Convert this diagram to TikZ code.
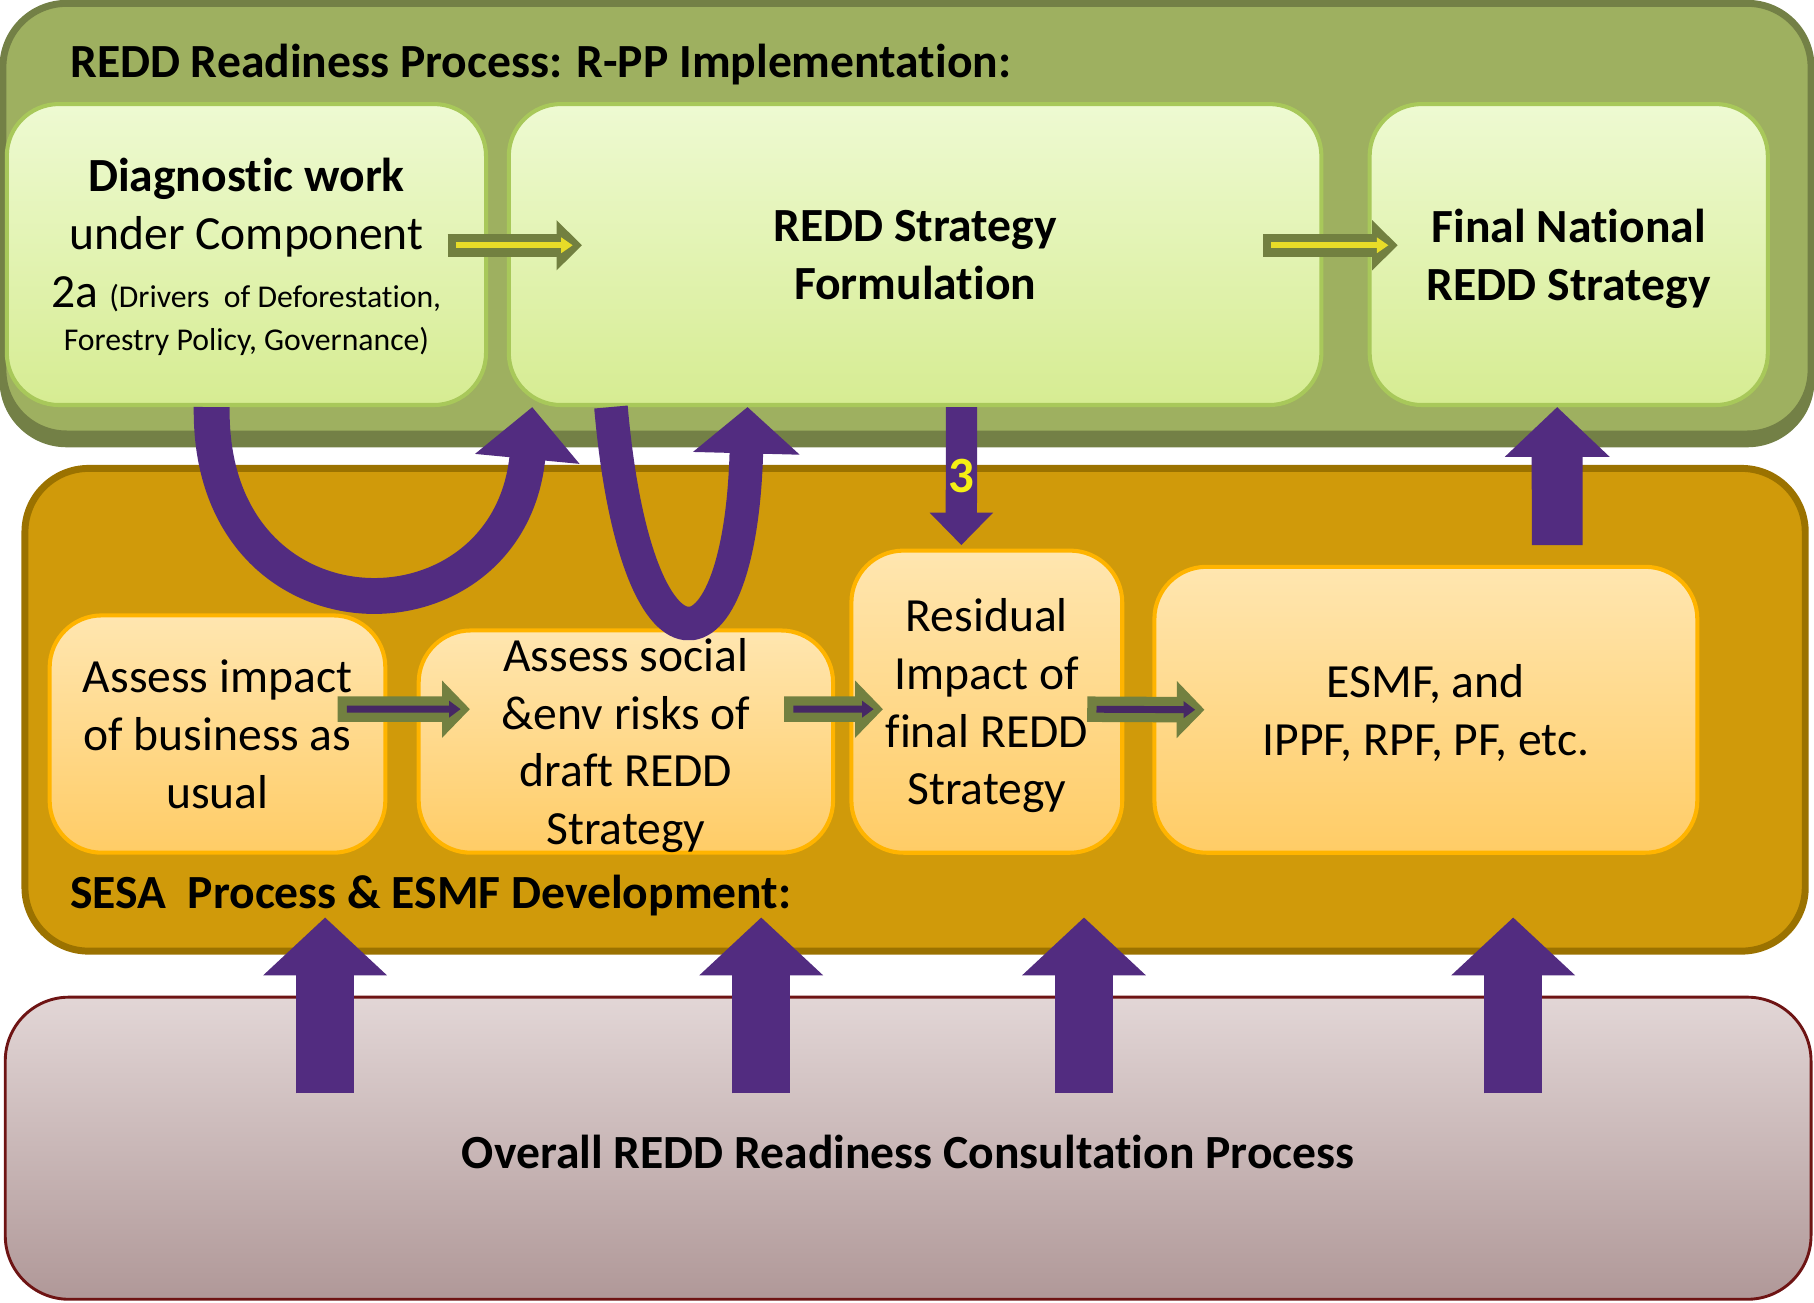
\documentclass[tikz,border=0pt]{standalone}
\usepackage{fontspec}
\setmainfont{Carlito}[Ligatures=NoCommon]
\usepackage{xcolor}
\usepackage{tikz}
\usetikzlibrary{arrows.meta,positioning}
\definecolor{panelgreen}{RGB}{158,176,96}
\definecolor{paneledge}{RGB}{115,128,70}
\definecolor{gtop}{RGB}{238,250,210}
\definecolor{gbot}{RGB}{214,236,146}
\definecolor{gedge}{RGB}{168,200,90}
\definecolor{sesafill}{RGB}{208,154,10}
\definecolor{sesaedge}{RGB}{155,114,0}
\definecolor{otop}{RGB}{255,230,176}
\definecolor{obot}{RGB}{255,204,102}
\definecolor{oedge}{RGB}{255,180,0}
\definecolor{pinktop}{RGB}{226,214,214}
\definecolor{pinkbot}{RGB}{176,152,152}
\definecolor{pinkedge}{RGB}{110,20,20}
\definecolor{olv}{RGB}{114,128,64}
\definecolor{yel}{RGB}{232,220,40}
\definecolor{purp}{RGB}{82,44,128}
\definecolor{dpurp}{RGB}{70,40,100}
\tikzset{panel/.style={rounded corners=5.5mm,line width=0.6mm,inner sep=0,font=\fontsize{11.7}{14.2}\selectfont},
  gbox/.style={draw=gedge,line width=0.35mm,top color=gtop,bottom color=gbot,rounded corners=4.5mm,inner sep=0,align=center,
    font=\fontsize{11.7}{14.2}\selectfont,text depth=-2.8pt},
  obox/.style={draw=oedge,line width=0.35mm,top color=otop,bottom color=obot,rounded corners=4.5mm,inner sep=0,align=center,
    font=\fontsize{11.7}{14.2}\selectfont,text depth=-2.8pt},
  gflow/.style={draw=olv,line width=2mm,-{Triangle[length=2.2mm,width=4.2mm]},
    postaction={draw=yel,line width=0.5mm,shorten <=0.7mm,shorten >=0.8mm,-{Triangle[length=1mm,width=1.3mm]}}},
  oflow/.style={draw=olv,line width=2.2mm,-{Triangle[length=2.4mm,width=4.8mm]},
    postaction={draw=dpurp,line width=0.6mm,shorten <=0.8mm,shorten >=0.8mm,-{Triangle[length=1mm,width=1.4mm]}}},
  pflow/.style={draw=purp}}

\begin{document}
\begin{tikzpicture}[x=0.01cm,y=-0.01cm]
        \useasboundingbox (0,0) rectangle (1568,1126);
        % the three panels
        \node[panel,fill=paneledge,draw=paneledge,minimum width=15.62cm,minimum height=3.77cm] (rppshade) at (784,195) {};
        \node[panel,fill=panelgreen,draw=paneledge,minimum width=15.62cm,minimum height=3.72cm] (rpp) at (784,189) {};
        \node[panel,fill=sesafill,draw=sesaedge,minimum width=15.38cm,minimum height=4.17cm] (sesa) at (791,613.5) {};
        \node[panel,top color=pinktop,bottom color=pinkbot,draw=pinkedge,line width=0.25mm,minimum width=15.6cm,minimum height=2.61cm] (consult) at (785,992.5) {\rule{0pt}{10pt}\textbf{Overall REDD Readiness Consultation Process}};

        \node[anchor=west,inner sep=0,font=\fontsize{11.7}{14.2}\selectfont] (rpptitle) at (60,56) {\textbf{REDD Readiness Process: R-PP Implementation:}};
        \node[anchor=west,inner sep=0,font=\fontsize{11.7}{14.2}\selectfont] (sesatitle) at (60,774) {\textbf{SESA\ \ Process \& ESMF Development:}};

        % R-PP row
        \node[gbox,minimum width=4.14cm,minimum height=2.6cm] (diag) at (213,220) {\textbf{Diagnostic work}\\under Component\\2a {\fontsize{7.8}{10.8}\selectfont (Drivers\ \ of Deforestation,}\\[-3.5pt]{\fontsize{7.8}{10.8}\selectfont Forestry Policy, Governance)}};
        \node[gbox,minimum width=7.02cm,minimum height=2.6cm] (formul) at (791,220) {\textbf{REDD Strategy}\\\textbf{Formulation}};
        \node[gbox,minimum width=3.44cm,minimum height=2.6cm] (final) at (1356,220) {\textbf{Final National}\\\textbf{REDD Strategy}};

        % SESA row
        \node[obox,minimum width=2.9cm,minimum height=2.05cm] (bau) at (188,634.5) {Assess impact\\of business as\\usual};
        \node[obox,minimum width=3.58cm,minimum height=1.92cm] (risks) at (541,641) {Assess social\\\&env risks of\\draft REDD\\Strategy};
        \node[obox,minimum width=2.34cm,minimum height=2.61cm] (resid) at (853,606.5) {Residual\\Impact of\\final REDD\\Strategy};
        \node[obox,minimum width=4.69cm,minimum height=2.47cm] (esmf) at (1232.5,613.5) {ESMF, and\\IPPF, RPF, PF, etc.};

        \draw[gflow] ([xshift=-3.5mm,yshift=0.8mm]diag.east) -- ([xshift=6.5mm,yshift=0.8mm]formul.west);
        \draw[gflow] ([xshift=-5.2mm,yshift=0.8mm]formul.east) -- ([xshift=2.6mm,yshift=0.8mm]final.west);

        \draw[oflow] ([xshift=-4.3mm,yshift=2.15mm]bau.east) -- ([xshift=4.6mm,yshift=2.8mm]risks.west);
        \draw[oflow] ([xshift=-4.4mm,yshift=2.8mm]risks.east) -- ([xshift=2.9mm,yshift=-0.65mm]resid.west);
        \draw[oflow] ([xshift=-3.2mm,yshift=-0.65mm]resid.east) -- ([xshift=4.5mm]esmf.west);

        % purple arrows
        \draw[pflow,line width=3.1mm,-{Triangle[length=4.5mm,width=8.8mm]}] ([xshift=-3mm]diag.south) .. controls (180,562) and (440,562) .. ([xshift=2.2mm]formul.south west);
        \draw[pflow,line width=2.9mm,-{Triangle[length=4mm,width=9mm]}] ([xshift=9mm]formul.south west) .. controls (550,600) and (640,590) .. ([xshift=20.8mm]formul.south west);
        \draw[pflow,line width=2.7mm,-{Triangle[length=2.8mm,width=5.3mm]}] ([xshift=4mm]formul.south) -- ([xshift=-2.2mm,yshift=0.3mm]resid.north)
            node[midway,text={rgb,255:red,245;green,240;blue,20},font=\fontsize{12.5}{14.2}\selectfont\bfseries] (three) {3};
        \draw[pflow,line width=4.4mm,-{Triangle[length=4.3mm,width=8.8mm]}] ([xshift=11.35mm,yshift=1.7mm]esmf.north) -- ([xshift=-1mm]final.south);
        \foreach \x/\n in {281/1,658/2,937/3,1308/4}{
            \coordinate (lo\n) at (\x,945);
            \coordinate (hi\n) at (\x,793);
            \draw[pflow,line width=5mm,-{Triangle[length=5mm,width=10.4mm]}] (lo\n) -- (hi\n);
        }
    \end{tikzpicture}
\end{document}
